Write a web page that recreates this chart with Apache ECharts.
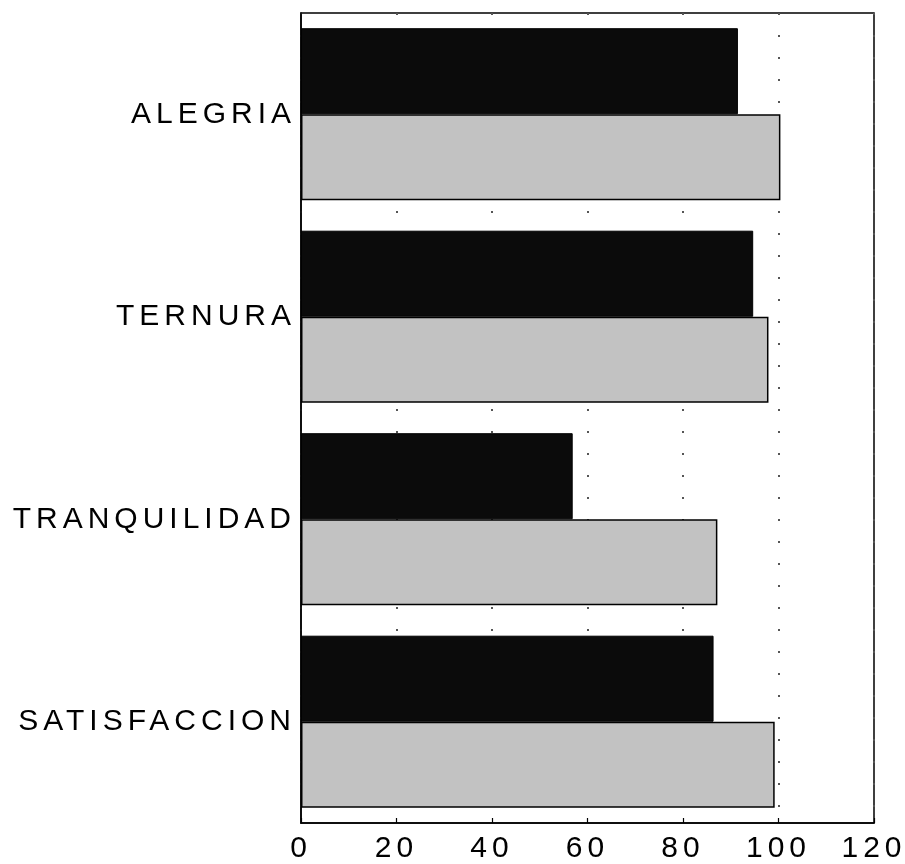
<!DOCTYPE html>
<html>
<head>
<meta charset="utf-8">
<script src="https://cdn.jsdelivr.net/npm/echarts@6/dist/echarts.min.js"></script>
<style>
  html, body { margin: 0; padding: 0; background: #fff; }
  #chart { width: 905px; height: 864px; }
</style>
</head>
<body>
<div id="chart"></div>
<script>
// ---- data ----
const categories = ['ALEGRIA', 'TERNURA', 'TRANQUILIDAD', 'SATISFACCION'];
const seriesDark = [91.5, 94.7, 56.9, 86.4];
const seriesLight = [100.4, 97.9, 87.2, 99.2];
const xTicks = [0, 20, 40, 60, 80, 100, 120];

// wide tracking of all texts, as in the reference (canvas letterSpacing)
const TRACKING = '5px';
const origFill = CanvasRenderingContext2D.prototype.fillText;
CanvasRenderingContext2D.prototype.fillText = function () {
  if ('letterSpacing' in this && this.letterSpacing !== TRACKING) {
    this.letterSpacing = TRACKING;
  }
  return origFill.apply(this, arguments);
};

const FONT = "'Liberation Sans', Arial, Helvetica, sans-serif";
const chart = echarts.init(document.getElementById('chart'), null, { renderer: 'canvas' });

chart.setOption({
  animation: false,
  backgroundColor: '#ffffff',
  grid: {
    left: 301, right: 31, top: 13, bottom: 41,
    show: true, borderColor: '#000', borderWidth: 1.5, backgroundColor: 'transparent'
  },
  xAxis: {
    type: 'value',
    min: xTicks[0], max: xTicks[xTicks.length - 1], interval: 20,
    axisLine: { show: true, lineStyle: { color: '#000', width: 1.5 } },
    axisTick: { show: true, inside: true, length: 5, lineStyle: { color: '#000', width: 1.2 } },
    axisLabel: { color: '#000', fontFamily: FONT, fontSize: 30, margin: 11 },
    splitLine: { show: true, lineStyle: { color: '#555', width: 2, type: [2, 20] } }
  },
  yAxis: {
    type: 'category',
    data: categories,
    inverse: true,
    axisLine: { show: true, lineStyle: { color: '#000', width: 1.5 } },
    axisTick: { show: false },
    axisLabel: { color: '#000', fontFamily: FONT, fontSize: 30, margin: 5 },
    splitLine: { show: false }
  },
  series: [
    {
      type: 'bar',
      data: seriesDark,
      barGap: '0%',
      barCategoryGap: '15%',
      itemStyle: { color: '#0b0b0b', borderColor: '#000', borderWidth: 1 }
    },
    {
      type: 'bar',
      data: seriesLight,
      itemStyle: { color: '#c2c2c2', borderColor: '#000', borderWidth: 1.5 }
    }
  ]
});
</script>
</body>
</html>
